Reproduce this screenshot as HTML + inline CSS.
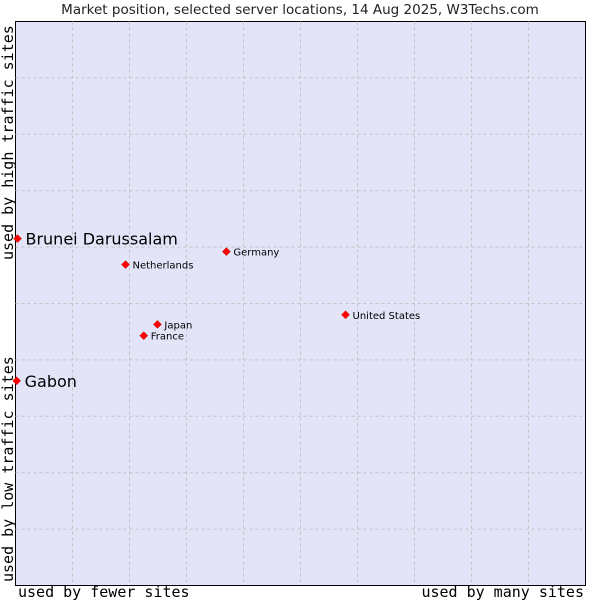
<!DOCTYPE html>
<html><head><meta charset="utf-8"><style>
body{margin:0;background:#fff;width:600px;height:600px;overflow:hidden}
svg{display:block}
</style></head><body>
<svg id="chart" width="600" height="600" xmlns="http://www.w3.org/2000/svg">
<text x="300" y="14" text-anchor="middle" font-family="DejaVu Sans, sans-serif" font-size="13.5" fill="#222">Market position, selected server locations, 14 Aug 2025, W3Techs.com</text>
<rect x="15.5" y="21.5" width="570" height="564" fill="#e3e4f8" stroke="#000" stroke-width="1"/>
<g id="grid"></g>
<text transform="translate(13,260) rotate(-90)" font-family="DejaVu Sans Mono, Liberation Mono, monospace" font-size="15" fill="#000">used by high traffic sites</text>
<text transform="translate(13,582) rotate(-90)" font-family="DejaVu Sans Mono, Liberation Mono, monospace" font-size="15" fill="#000">used by low traffic sites</text>
<text x="18" y="597" font-family="DejaVu Sans Mono, Liberation Mono, monospace" font-size="15" fill="#000">used by fewer sites</text>
<text x="584" y="597" text-anchor="end" font-family="DejaVu Sans Mono, Liberation Mono, monospace" font-size="15" fill="#000">used by many sites</text>
<g id="points"></g>
</svg>
<script>
const countries=["Brunei Darussalam","Gabon","Germany","Netherlands","United States","Japan","France"];
const xValues=[0.35,0.2,37.0,19.3,57.9,24.9,22.5];
const yValues=[61.5,36.3,59.2,56.9,48.0,46.3,44.3];
const bigLabel=[true,true,false,false,false,false,false];
const NS="http://www.w3.org/2000/svg";
const L=15.5,T=21.5,W=570,H=564;
function xs(v){return L+v/100*W;}
function ys(v){return T+H-v/100*H;}
const grid=document.getElementById('grid');
for(let i=1;i<10;i++){
  const l=document.createElementNS(NS,'line');
  
  
  const x=L+i*W/10;
  l.setAttribute('x1',x);l.setAttribute('x2',x);l.setAttribute('y1',T);l.setAttribute('y2',T+H);
  l.setAttribute('stroke','#c4c4c4');l.setAttribute('stroke-dasharray','3,3');
  grid.appendChild(l);
  const h=document.createElementNS(NS,'line');
  
  
  const y=T+i*H/10;
  h.setAttribute('x1',L);h.setAttribute('x2',L+W);h.setAttribute('y1',y);h.setAttribute('y2',y);
  h.setAttribute('stroke','#c4c4c4');h.setAttribute('stroke-dasharray','3,3');
  grid.appendChild(h);
}
const pts=document.getElementById('points');
countries.forEach((c,i)=>{
  const x=xs(xValues[i]),y=ys(yValues[i]);
  const d=document.createElementNS(NS,'path');
  
  
  d.setAttribute('d',`M${x} ${y-4}L${x+4} ${y}L${x} ${y+4}L${x-4} ${y}Z`);
  d.setAttribute('fill','#f00');d.setAttribute('stroke','#c00');d.setAttribute('stroke-width','0.5');
  pts.appendChild(d);
  const t=document.createElementNS(NS,'text');
  
  
  t.setAttribute('x',x+(bigLabel[i]?8:7));
  t.setAttribute('y',y+(bigLabel[i]?6:4));
  t.setAttribute('font-family','DejaVu Sans, sans-serif');
  t.setAttribute('font-size',bigLabel[i]?'16':'10');
  t.setAttribute('fill','#000');
  t.textContent=c;
  pts.appendChild(t);
});
</script>
</body></html>
